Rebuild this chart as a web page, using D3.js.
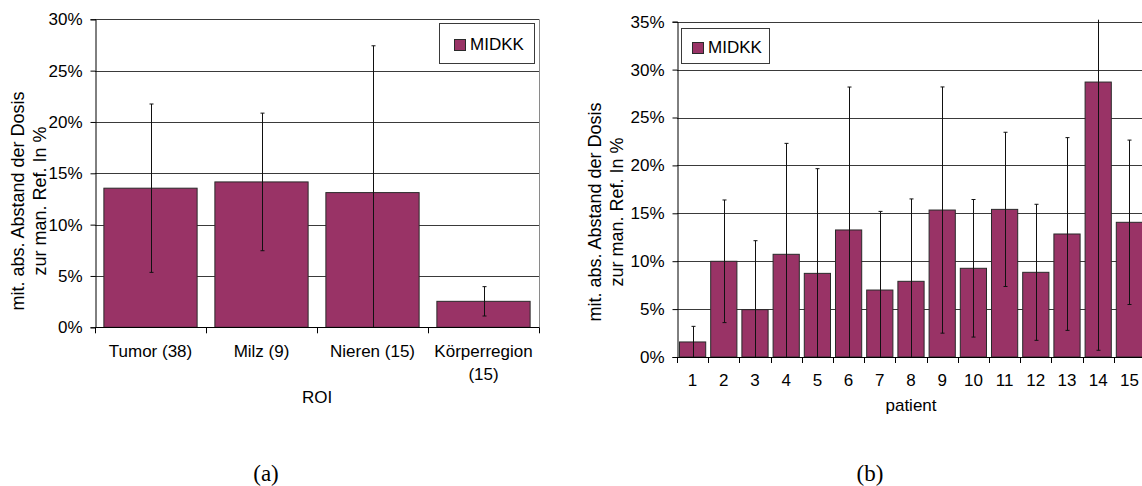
<!DOCTYPE html>
<html>
<head>
<meta charset="utf-8">
<script src="https://cdn.jsdelivr.net/npm/d3@7"></script>
<style>
  html, body { margin: 0; padding: 0; background: #fff; }
  svg { display: block; }
  text { font-family: "Liberation Sans", Arial, sans-serif; fill: #000; }
  .caption { font-family: "Liberation Serif", "DejaVu Serif", serif; }
</style>
</head>
<body>
<svg id="fig" width="1142" height="486"></svg>
<script>
// (a) mean absolute dose deviation per region of interest
const roiCategories = ["Tumor (38)", "Milz (9)", "Nieren (15)", "Körperregion\n(15)"];
const roiMeans  = [13.55, 14.16, 13.12, 2.53];
const roiErrors = [8.2, 6.7, 14.3, 1.43];
const roiTicks  = [0, 5, 10, 15, 20, 25, 30];

// (b) mean absolute dose deviation per patient
const patientCategories = ["1","2","3","4","5","6","7","8","9","10","11","12","13","14","15"];
const patientMeans  = [1.57, 9.99, 4.94, 10.72, 8.73, 13.26, 6.99, 7.9, 15.34, 9.26, 15.41, 8.84, 12.84, 28.7, 14.06];
const patientErrors = [1.63, 6.4, 7.2, 11.58, 10.93, 14.92, 8.21, 8.6, 12.85, 7.18, 8.05, 7.1, 10.06, 28.0, 8.58];
const patientTicks  = [0, 5, 10, 15, 20, 25, 30, 35];

const seriesName = "MIDKK";
const yTitle = ["mit. abs. Abstand der Dosis", "zur man. Ref. In %"];

const BAR = "#993366";
const FS = 17;
const svg = d3.select("#fig");

function drawPanel(cfg) {
  const g = svg.append("g");
  const x = d3.scaleBand().domain(cfg.categories).range([cfg.x0, cfg.x1])
      .paddingInner(0.16).paddingOuter(0.08);
  const y = d3.scaleLinear().domain([0, cfg.yMax]).range([cfg.y0, cfg.y1]);

  // horizontal gridlines
  g.append("g").selectAll("line").data(cfg.ticks.filter(t => t > 0)).join("line")
    .attr("x1", cfg.x0).attr("x2", cfg.x1)
    .attr("y1", d => Math.round(y(d)) + 0.5).attr("y2", d => Math.round(y(d)) + 0.5)
    .attr("stroke", "#3a3a3a").attr("stroke-width", 1);

  // right plot border
  g.append("line")
    .attr("x1", cfg.x1 + 0.5).attr("x2", cfg.x1 + 0.5)
    .attr("y1", y(cfg.yMax)).attr("y2", cfg.y0)
    .attr("stroke", "#8a8a8a");

  // bars
  g.append("g").selectAll("rect").data(cfg.means).join("rect")
    .attr("x", (d, i) => x(cfg.categories[i]))
    .attr("width", x.bandwidth())
    .attr("y", d => y(d))
    .attr("height", d => cfg.y0 - y(d))
    .attr("fill", BAR).attr("stroke", "#2a2a2a").attr("stroke-width", 1);

  // error bars, clipped to the plot area (no cap where clipped)
  const eb = g.append("g").attr("stroke", "#111").attr("stroke-width", 1);
  cfg.means.forEach((m, i) => {
    const cx = Math.round(x(cfg.categories[i]) + x.bandwidth() / 2) + 0.5;
    const hi = m + cfg.errors[i], lo = m - cfg.errors[i];
    const yHi = hi > cfg.yMax ? y(cfg.yMax) - 2 : y(hi);
    const yLo = lo < 0 ? y(0) : y(lo);
    eb.append("line").attr("x1", cx).attr("x2", cx).attr("y1", yHi).attr("y2", yLo);
    if (hi <= cfg.yMax) eb.append("line").attr("x1", cx - 2).attr("x2", cx + 2).attr("y1", yHi).attr("y2", yHi);
    if (lo >= 0) eb.append("line").attr("x1", cx - 2).attr("x2", cx + 2).attr("y1", yLo).attr("y2", yLo);
  });

  // y axis
  const yAxis = d3.axisLeft(y).tickValues(cfg.ticks).tickFormat(d => d + "%")
      .tickSize(5).tickPadding(8);
  const ya = g.append("g").attr("transform", `translate(${cfg.x0 + 0.5},0)`).call(yAxis);
  ya.select(".domain").attr("stroke", "#000");
  ya.selectAll(".tick line").attr("stroke", "#000");
  ya.selectAll("text").attr("font-size", FS).attr("font-family", "Liberation Sans, Arial, sans-serif").attr("fill", "#000");

  // x axis: ticks on category boundaries
  g.append("line").attr("x1", cfg.x0).attr("x2", cfg.x1)
    .attr("y1", Math.round(cfg.y0) + 0.5).attr("y2", Math.round(cfg.y0) + 0.5).attr("stroke", "#000");
  const bounds = cfg.categories.map(c => x(c) - x.step() * 0.08).concat([cfg.x1]);
  g.append("g").selectAll("line").data(bounds).join("line")
    .attr("x1", d => Math.round(d) + 0.5).attr("x2", d => Math.round(d) + 0.5)
    .attr("y1", cfg.y0).attr("y2", cfg.y0 + 6).attr("stroke", "#000");

  // category labels
  const lab = g.append("g").attr("font-size", FS).attr("text-anchor", "middle");
  cfg.categories.forEach(c => {
    const t = lab.append("text").attr("x", x(c) + x.bandwidth() / 2).attr("y", cfg.labelY);
    c.split("\n").forEach((line, k) => {
      t.append("tspan").attr("x", x(c) + x.bandwidth() / 2).attr("dy", k ? 23 : 0).text(line);
    });
  });

  // axis titles
  g.append("text").attr("x", (cfg.x0 + cfg.x1) / 2).attr("y", cfg.xTitleY)
    .attr("text-anchor", "middle").attr("font-size", FS).text(cfg.xTitle);
  yTitle.forEach((line, k) => {
    g.append("text")
      .attr("transform", `translate(${cfg.yTitleX[k]},${cfg.yTitleCY}) rotate(-90)`)
      .attr("text-anchor", "middle").attr("font-size", 18).text(line);
  });

  // legend
  const L = cfg.legend;
  const lg = g.append("g");
  lg.append("rect").attr("x", L.x + 0.5).attr("y", L.y + 0.5).attr("width", L.w).attr("height", L.h)
    .attr("fill", "#fff").attr("stroke", "#3a3a3a");
  lg.append("rect").attr("x", L.x + L.sx + 0.5).attr("y", L.y + L.sy + 0.5).attr("width", 11).attr("height", 11)
    .attr("fill", BAR).attr("stroke", "#2a2a2a");
  lg.append("text").attr("x", L.x + L.sx + 16).attr("y", L.y + L.sy + 11).attr("font-size", FS).text(seriesName);

  // caption
  svg.append("text").attr("class", "caption").attr("x", cfg.captionX).attr("y", 481)
    .attr("text-anchor", "middle").attr("font-size", 23).text(cfg.caption);
}

drawPanel({
  categories: roiCategories, means: roiMeans, errors: roiErrors, ticks: roiTicks, yMax: 30,
  x0: 95, x1: 539, y0: 327.3, y1: 19.3,
  labelY: 357, xTitle: "ROI", xTitleY: 403,
  yTitleX: [24, 46], yTitleCY: 201,
  legend: { x: 439, y: 23, w: 95, h: 40, sx: 15, sy: 16 },
  caption: "(a)", captionX: 266
});

drawPanel({
  categories: patientCategories, means: patientMeans, errors: patientErrors, ticks: patientTicks, yMax: 35,
  x0: 677, x1: 1145, y0: 357, y1: 21.7,
  labelY: 386, xTitle: "patient", xTitleY: 411,
  yTitleX: [601, 623], yTitleCY: 212,
  legend: { x: 681, y: 28, w: 88, h: 35, sx: 11, sy: 14 },
  caption: "(b)", captionX: 870
});
</script>
</body>
</html>
